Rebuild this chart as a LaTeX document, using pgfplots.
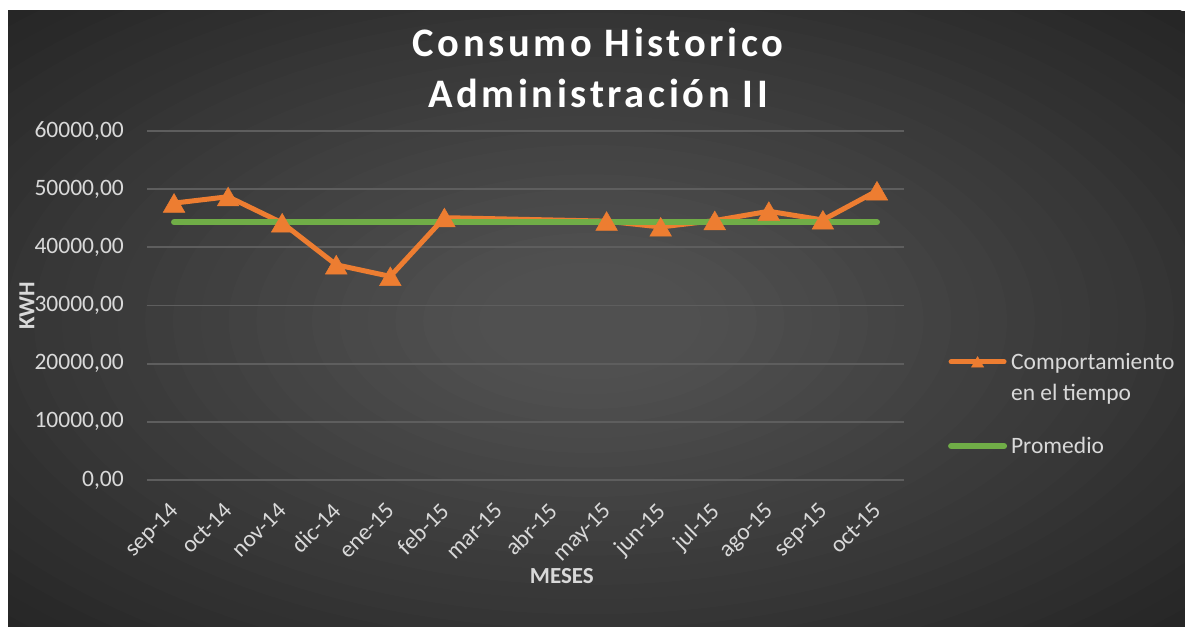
\documentclass[border=0pt]{standalone}
\usepackage{fontspec}
\setmainfont{Carlito}
\newfontfamily\titlefont[LetterSpace=9]{Carlito}
\usepackage{pgfplots}
\pgfplotsset{compat=1.18}
\definecolor{bgin}{HTML}{505050}
\definecolor{bgout}{HTML}{262626}
\definecolor{gridc}{HTML}{5E5E5E}
\definecolor{txt}{HTML}{D9D9D9}
\definecolor{orng}{HTML}{ED7D31}
\definecolor{grn}{HTML}{70AD47}
% dark radial background built from nested ellipses
\newcommand\bgfill{%
  \fill[bgout] (8,0) rectangle (1185,615);
  \foreach \i in {0,...,29}{
    \pgfmathsetmacro{\r}{1-\i/30}
    \pgfmathsetmacro{\c}{min(100,(1-\r)/0.85*100)}
    \fill[bgin!\c!bgout] (590,305) ellipse [x radius=834*\r, y radius=440*\r];
  }}

\begin{document}
\begin{tikzpicture}[x=1pt,y=1pt]
\fill[white] (0,0) rectangle (1185,626);
\begin{scope}
  \clip (8,0) rectangle (1185,615);
  \bgfill
\end{scope}
\begin{axis}[
    at={(147pt,146pt)}, anchor=south west,
    scale only axis, width=757pt, height=349pt,
    xmin=-0.5, xmax=13.5, ymin=0, ymax=60000,
    xtick={0,...,13},
    xticklabels={sep-14,oct-14,nov-14,dic-14,ene-15,feb-15,mar-15,abr-15,
                 may-15,jun-15,jul-15,ago-15,sep-15,oct-15},
    ytick={0,10000,...,60000},
    scaled y ticks=false,
    ymajorgrids,
    major grid style={gridc, line width=1.8pt},
    axis line style={draw=none},
    major tick style={draw=none},
    tick label style={text=txt, font=\fontsize{23.5}{28}\selectfont},
    y tick label style={/pgf/number format/fixed,
        /pgf/number format/fixed zerofill,
        /pgf/number format/precision=2,
        /pgf/number format/use comma,
        /pgf/number format/1000 sep={},
        /pgf/number format/assume math mode=true,
        anchor=east, inner sep=0pt, xshift=-23pt},
    x tick label style={rotate=45, anchor=north east, inner sep=0pt,
        xshift=-19pt, yshift=-11pt},
    title={Consumo Historico\\Administración II},
    title style={at={(rel axis cs:0.5958,1.278)}, anchor=north,
        align=center, inner sep=0pt, text=white,
        font=\titlefont\bfseries\fontsize{40.5}{51}\selectfont},
    xlabel={MESES},
    xlabel style={at={(rel axis cs:0.548,-0.275)}, anchor=center,
        text=txt, font=\bfseries\fontsize{23}{28}\selectfont},
    ylabel={KWH},
    ylabel style={at={(rel axis cs:-0.1585,0.4986)}, anchor=center,
        text=txt, font=\bfseries\fontsize{23}{28}\selectfont},
    legend style={at={(rel axis cs:1.054,0.37)}, anchor=north west,
        draw=none, fill=none, text=txt,
        font=\fontsize{23.5}{28}\selectfont,
        nodes={inner sep=0pt},
        row sep=13pt, column sep=4pt},
    legend cell align=left,
    legend image code/.code={
        \draw[mark repeat=2, mark phase=2, mark size=7pt, line cap=round,
              mark options={fill=orng, draw=orng, line width=0.5pt, yshift=-1.7pt}]
            plot coordinates {(0pt,0pt) (26.5pt,0pt) (53pt,0pt)};},
]
\addplot[orng, line width=5pt, line cap=round, mark=triangle*,
    mark size=12.5pt,
    mark options={fill=orng, draw=orng, line width=0.5pt, yshift=-3pt}]
    coordinates {(0,47600) (1,48700) (2,44200) (3,37000) (4,35000)
                 (5,45100) (8,44500) (9,43500) (10,44600) (11,46200)
                 (12,44700) (13,49700)};
\addlegendimage{empty legend}
\addlegendimage{empty legend}
\addplot[grn, line width=6pt, line cap=round, mark=none]
    coordinates {(0,44300) (1,44300) (2,44300) (3,44300) (4,44300)
                 (5,44300) (6,44300) (7,44300) (8,44300) (9,44300)
                 (10,44300) (11,44300) (12,44300) (13,44300)};
\legend{Comportamiento, en el tiempo, \rule{0pt}{8pt}, Promedio}
\end{axis}
% repaint the lowest strip of the background over anything below the labels
\begin{scope}
  \clip (8,0) rectangle (1185,20);
  \bgfill
\end{scope}
\pgfresetboundingbox
\path[use as bounding box] (0,0) rectangle (1185,626);
\end{tikzpicture}
\end{document}
